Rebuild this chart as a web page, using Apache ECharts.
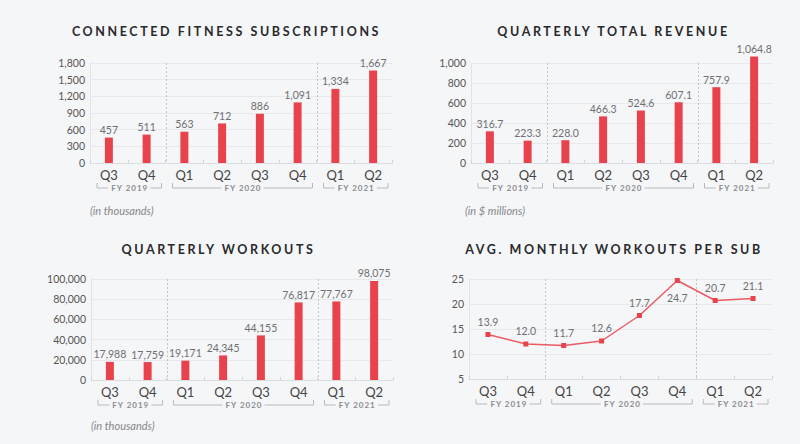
<!DOCTYPE html>
<html>
<head>
<meta charset="utf-8">
<script src="https://cdn.jsdelivr.net/npm/echarts@6/dist/echarts.min.js"></script>
<style>
  html, body { margin: 0; padding: 0; background: #f5f6f8; }
  #chart { width: 800px; height: 444px; }
</style>
</head>
<body>
<div id="chart"></div>
<script>
// ---- data ----
const quarters = ['Q3', 'Q4', 'Q1', 'Q2', 'Q3', 'Q4', 'Q1', 'Q2'];
const fiscalYears = ['FY 2019', 'FY 2020', 'FY 2021'];
const fyFrom = [0, 2, 6];
const fyTo = [1, 5, 7];

const subscriptions = [457, 511, 563, 712, 886, 1091, 1334, 1667];
const revenue = [316.7, 223.3, 228.0, 466.3, 524.6, 607.1, 757.9, 1064.8];
const workouts = [17988, 17759, 19171, 24345, 44155, 76817, 77767, 98075];
const workoutsPerSub = [13.9, 12.0, 11.7, 12.6, 17.7, 24.7, 20.7, 21.1];

const titles = ['CONNECTED FITNESS SUBSCRIPTIONS', 'QUARTERLY TOTAL REVENUE', 'QUARTERLY WORKOUTS', 'AVG. MONTHLY WORKOUTS PER SUB'];
const notes = ['(in thousands)', '(in $ millions)', '(in thousands)'];

const yMin = [0, 0, 0, 5];
const yMax = [1800, 1000, 100000, 25];
const yStep = [300, 200, 20000, 5];

// ---- styling / layout ----
const RED = '#e8434d';
const FONT = 'Lato, "Open Sans", sans-serif';
const grids = [
  { left: 90, top: 63, width: 302, height: 100 },
  { left: 471, top: 63, width: 302, height: 100 },
  { left: 91, top: 279, width: 302, height: 101 },
  { left: 469, top: 279, width: 303, height: 100 }
];
const titlePos = [[226.5, 31], [613.5, 31], [218.5, 249], [614, 249]];
const notePos = [[90, 210], [465, 210], [91, 425]];

const fmtInt = v => Math.round(v).toLocaleString('en-US');
const fmt1 = v => v.toLocaleString('en-US', { minimumFractionDigits: 1, maximumFractionDigits: 1 });

const measureCtx = document.createElement('canvas').getContext('2d');
const FY_FONT = 'bold 8px ' + FONT;
const FY_SPACING = 1;
function fyWidth(t) {
  measureCtx.font = FY_FONT;
  return measureCtx.measureText(t).width + FY_SPACING * (t.length - 1);
}

function bracketRender(params, api) {
  const i = params.dataIndex;
  const cs = params.coordSys;
  const band = api.size([1, 0])[0];
  const x1 = api.coord([api.value(0), 0])[0] - band / 2 + 7;
  const x2 = api.coord([api.value(1), 0])[0] + band / 2 - 4;
  const y = cs.y + cs.height + 25;
  const label = fiscalYears[i];
  const cx = (x1 + x2) / 2;
  const hw = fyWidth(label) / 2 + 3;
  const lineStyle = { stroke: '#b9babd', lineWidth: 1, fill: null };
  const children = [
    { type: 'polyline', shape: { points: [[x1, y - 5], [x1, y], [cx - hw, y]] }, style: lineStyle, silent: true },
    { type: 'polyline', shape: { points: [[cx + hw, y], [x2, y], [x2, y - 5]] }, style: lineStyle, silent: true },
    { type: 'text', x: cx + FY_SPACING / 2, y: y, silent: true,
      style: { text: label, font: FY_FONT, fill: '#8a8b8e', align: 'center', verticalAlign: 'middle' } }
  ];
  if (i < fiscalYears.length - 1) {
    const sx = Math.round(api.coord([api.value(1), 0])[0] + band / 2) + 0.5;
    children.push({ type: 'line', silent: true,
      shape: { x1: sx, y1: cs.y, x2: sx, y2: cs.y + cs.height },
      style: { stroke: '#c4c5c8', lineWidth: 1, lineDash: [2, 2] } });
  }
  return { type: 'group', children };
}

const xAxes = grids.map((g, k) => ({
  type: 'category', gridIndex: k, data: quarters,
  axisLine: { lineStyle: { color: '#dcdde0' } },
  axisTick: { show: true, inside: true, length: 3, lineStyle: { color: '#d3d4d7' } },
  axisLabel: { color: '#454545', fontSize: 13, fontFamily: FONT, margin: 5 }
}));
const yAxes = grids.map((g, k) => ({
  type: 'value', gridIndex: k, min: yMin[k], max: yMax[k], interval: yStep[k],
  axisLine: { show: true, lineStyle: { color: '#e2e3e6' } },
  axisTick: { show: false },
  splitLine: { lineStyle: { color: '#e8e9ec' } },
  axisLabel: { color: '#555', fontSize: 10.5, fontFamily: FONT, margin: 5, formatter: v => fmtInt(v) }
}));

const labelStyle = { show: true, color: '#6f6f72', fontSize: 10.5, fontFamily: FONT };
const barSeries = (k, data, f) => ({
  type: 'bar', xAxisIndex: k, yAxisIndex: k, data, barWidth: 8, clip: false,
  itemStyle: { color: RED },
  label: Object.assign({ position: 'top', distance: 2, formatter: p => f(p.value) }, labelStyle),
  silent: true
});

const series = [
  barSeries(0, subscriptions, fmtInt),
  barSeries(1, revenue, fmt1),
  barSeries(2, workouts, fmtInt),
  {
    type: 'line', xAxisIndex: 3, yAxisIndex: 3, silent: true,
    data: workoutsPerSub.map((v, i) => ({
      value: v,
      label: i === 5 ? { position: 'bottom', distance: 9 } : undefined
    })),
    symbol: 'rect', symbolSize: 5,
    itemStyle: { color: RED },
    lineStyle: { color: '#ec5a62', width: 1.5 },
    label: Object.assign({ position: 'top', distance: 5, formatter: p => fmt1(p.value) }, labelStyle)
  }
];
grids.forEach((g, k) => {
  series.push({
    type: 'custom', xAxisIndex: k, yAxisIndex: k, silent: true,
    encode: { x: [0, 1] },
    data: fiscalYears.map((t, i) => [fyFrom[i], fyTo[i]]),
    renderItem: bracketRender
  });
});

const graphic = [];
titles.forEach((t, k) => graphic.push({
  type: 'text', x: titlePos[k][0], y: titlePos[k][1], silent: true,
  style: { text: t, font: 'bold 12.5px ' + FONT, fill: '#2a2a2c', align: 'center', verticalAlign: 'middle' }
}));
notes.forEach((t, k) => graphic.push({
  type: 'text', x: notePos[k][0], y: notePos[k][1], silent: true,
  style: { text: t, font: 'italic 11px ' + FONT, fill: '#86878a', align: 'left', verticalAlign: 'middle' }
}));

const chart = echarts.init(document.getElementById('chart'), null, { renderer: 'svg' });
chart.setOption({
  backgroundColor: '#f5f6f8',
  animation: false,
  grid: grids,
  xAxis: xAxes,
  yAxis: yAxes,
  series,
  graphic
});

function applySpacing() {
  document.querySelectorAll('#chart svg text').forEach(el => {
    const t = el.textContent;
    if (titles.includes(t)) el.style.letterSpacing = '2.6px';
    else if (fiscalYears.includes(t)) el.style.letterSpacing = FY_SPACING + 'px';
  });
}
applySpacing();
chart.on('finished', applySpacing);
</script>
</body>
</html>
